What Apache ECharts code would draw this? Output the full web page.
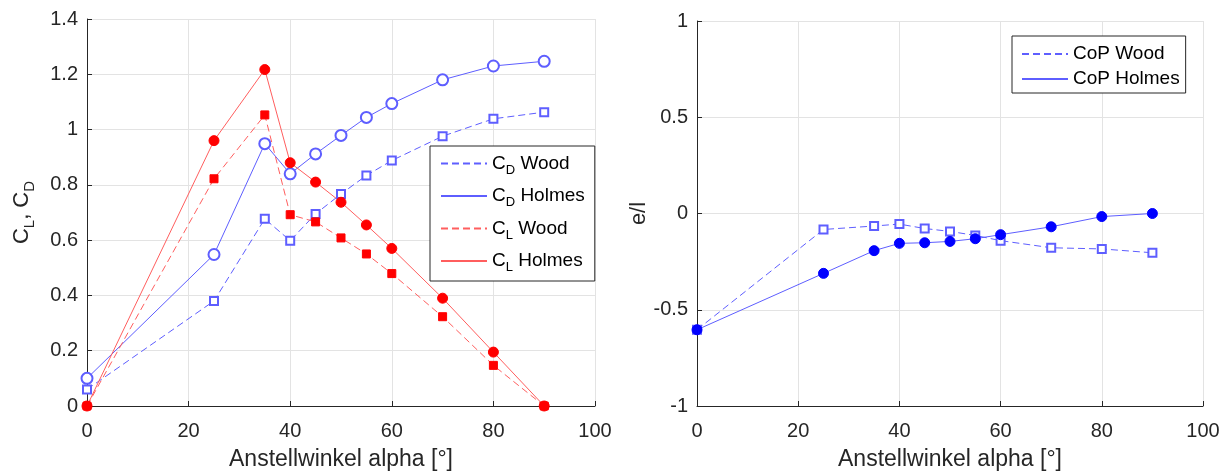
<!DOCTYPE html>
<html><head><meta charset="utf-8">
<script src="https://cdn.jsdelivr.net/npm/echarts@6/dist/echarts.min.js"></script>
<style>html,body{margin:0;padding:0;background:#fff}#c{width:1228px;height:476px}</style>
</head><body><div id="c"></div>
<script>
// ---- data ----
const alpha = [0, 25, 35, 40, 45, 50, 55, 60, 70, 80, 90];
const cdWood = [0.06, 0.38, 0.677, 0.598, 0.695, 0.767, 0.834, 0.888, 0.976, 1.039, 1.063];
const cdHolmes = [0.10, 0.548, 0.949, 0.840, 0.912, 0.979, 1.044, 1.094, 1.180, 1.230, 1.247];
const clWood = [0, 0.822, 1.053, 0.692, 0.666, 0.608, 0.550, 0.479, 0.323, 0.147, 0];
const clHolmes = [0, 0.960, 1.217, 0.880, 0.810, 0.737, 0.655, 0.570, 0.390, 0.195, 0];
const copWood = [-0.604, -0.083, -0.065, -0.055, -0.078, -0.093, -0.114, -0.141, -0.178, -0.184, -0.204];
const copHolmes = [-0.604, -0.311, -0.193, -0.155, -0.152, -0.145, -0.131, -0.110, -0.069, -0.016, 0];
const xAxisTitle = 'Anstellwinkel alpha [°]';
const leftNames = ['CD Wood', 'CD Holmes', 'CL Wood', 'CL Holmes'];
const rightNames = ['CoP Wood', 'CoP Holmes'];

// ---- styles ----
const FONT = 'Liberation Sans, Arial, sans-serif';
const TXT = '#262626';
const GRIDC = '#e3e3e3';
const BLUE_L = '#5e5eff';
const RED_L = '#ff5e5e';
const RED_M = '#ff0000';
const BLUE_M = '#0000ff';
const DASH = [7, 4];

const pairs = arr => alpha.map((a, i) => [a, arr[i]]);

function xAx(gi) {
  return {
    type: 'value', gridIndex: gi, min: 0, max: 100, interval: 20,
    axisLine: { show: true, onZero: false, lineStyle: { color: TXT, width: 1 } },
    axisTick: { show: true, inside: true, length: 5, lineStyle: { color: TXT } },
    axisLabel: { fontSize: 20, color: TXT, fontFamily: FONT, margin: 15 },
    splitLine: { show: true, lineStyle: { color: GRIDC, width: 1 } },
    name: xAxisTitle, nameLocation: 'middle', nameGap: 42,
    nameTextStyle: { fontSize: 23, color: TXT, fontFamily: FONT }
  };
}
function yAx(gi, min, max, interval, name, nameGap, rich) {
  return {
    type: 'value', gridIndex: gi, min: min, max: max, interval: interval,
    axisLine: { show: true, onZero: false, lineStyle: { color: TXT, width: 1 } },
    axisTick: { show: true, inside: true, length: 5, lineStyle: { color: TXT } },
    axisLabel: { fontSize: 20, color: TXT, fontFamily: FONT, margin: 9 },
    splitLine: { show: true, lineStyle: { color: GRIDC, width: 1 } },
    name: name, nameLocation: 'middle', nameGap: nameGap, nameRotate: 90,
    nameTextStyle: { fontSize: 22, color: TXT, fontFamily: FONT, rich: rich }
  };
}

function ser(name, data, xi, lineColor, markColor, symbol, size, dashed) {
  return {
    name: name, type: 'line', xAxisIndex: xi, yAxisIndex: xi,
    data: pairs(data), symbol: symbol, symbolSize: size, showSymbol: true,
    lineStyle: { color: lineColor, width: 1, type: dashed ? DASH : 'solid' },
    itemStyle: { color: markColor, borderColor: markColor, borderWidth: 1 },
    emphasis: { disabled: true }, animation: false
  };
}

const subRich = {
  c: { fontSize: 19, fontFamily: FONT, color: '#000', lineHeight: 26, verticalAlign: 'middle' },
  s: { fontSize: 13, fontFamily: FONT, color: '#000', lineHeight: 12, verticalAlign: 'bottom' }
};
const yRich = {
  c: { fontSize: 22, fontFamily: FONT, color: TXT, lineHeight: 30, verticalAlign: 'middle' },
  s: { fontSize: 15, fontFamily: FONT, color: TXT, lineHeight: 15, verticalAlign: 'bottom' }
};

const option = {
  backgroundColor: '#fff',
  animation: false,
  grid: [
    { left: 87, right: 633, top: 19, bottom: 69 },
    { left: 697, right: 25, top: 21, bottom: 69 }
  ],
  xAxis: [xAx(0), xAx(1)],
  yAxis: [
    yAx(0, 0, 1.4, 0.2, '{c|C}{s|L}{c|, C}{s|D}', 50, yRich),
    yAx(1, -1, 1, 0.5, 'e/l', 41, undefined)
  ],
  legend: [
    {
      data: leftNames, orient: 'vertical', left: 430, top: 146,
      padding: [8, 10, 7, 10], itemGap: 10, itemWidth: 46, itemHeight: 14, itemTextGap: 5,
      backgroundColor: '#fff', borderColor: TXT, borderWidth: 1,
      itemStyle: { opacity: 0 },
      selectedMode: false,
      formatter: n => '{c|C}{s|' + n.charAt(1) + '}{c|' + n.slice(2) + '}',
      textStyle: { fontFamily: FONT, color: '#000', fontSize: 19, rich: subRich }
    },
    {
      data: rightNames, orient: 'vertical', left: 1012, top: 36,
      padding: [7, 6, 3, 9], itemGap: 3, itemWidth: 46, itemHeight: 14, itemTextGap: 6,
      backgroundColor: '#fff', borderColor: TXT, borderWidth: 1,
      itemStyle: { opacity: 0 },
      selectedMode: false,
      textStyle: { fontFamily: FONT, color: '#000', fontSize: 19, lineHeight: 22 }
    }
  ],
  series: [
    ser('CD Wood', cdWood, 0, BLUE_L, BLUE_L, 'emptyRect', 8, true),
    ser('CD Holmes', cdHolmes, 0, BLUE_L, BLUE_L, 'emptyCircle', 11, false),
    ser('CL Wood', clWood, 0, RED_L, RED_M, 'rect', 8, true),
    ser('CL Holmes', clHolmes, 0, RED_L, RED_M, 'circle', 10, false),
    ser('CoP Wood', copWood, 1, BLUE_L, BLUE_L, 'emptyRect', 8, true),
    ser('CoP Holmes', copHolmes, 1, BLUE_L, BLUE_M, 'circle', 10, false)
  ]
};
const chart = echarts.init(document.getElementById('c'), null, { renderer: 'canvas' });
chart.setOption(option);
</script>
</body></html>
